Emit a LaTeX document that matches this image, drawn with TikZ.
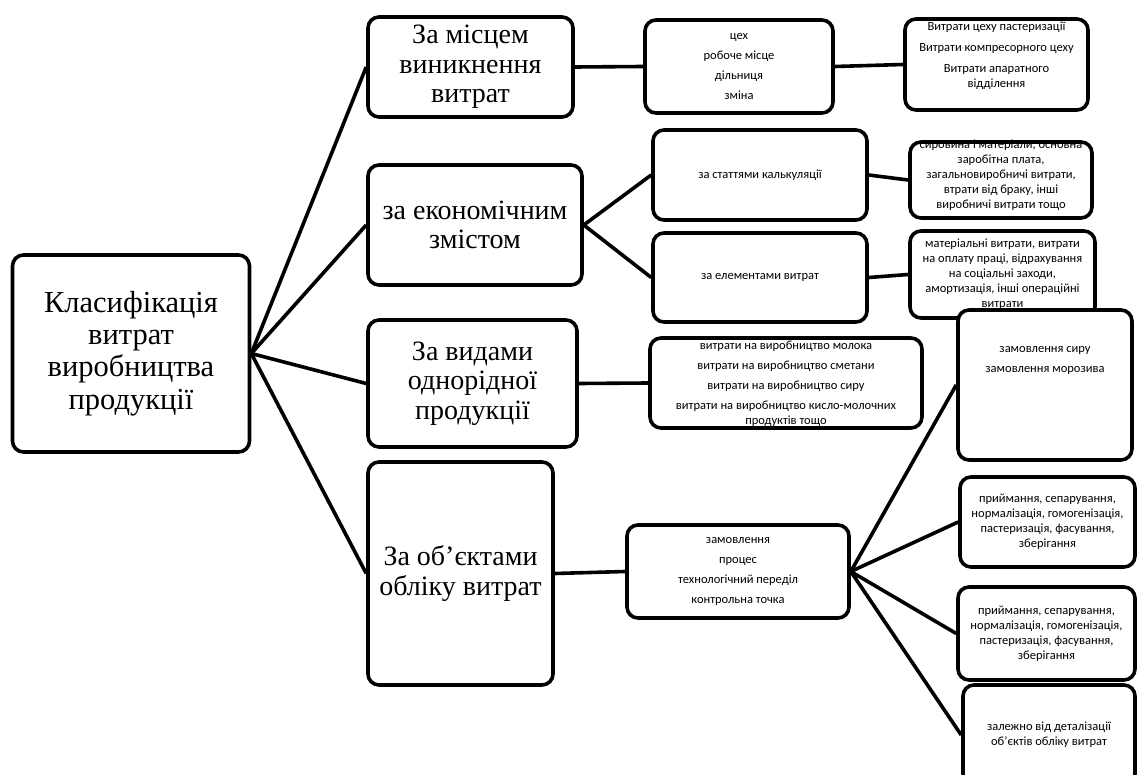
\documentclass[tikz,border=0pt]{standalone}
\usepackage{fontspec}
\setmainfont{Liberation Serif}
\newfontfamily\titleserif{Liberation Serif}
\newfontfamily\smallsans{Carlito}
\begin{document}
\begin{tikzpicture}[x=1pt,y=-1pt,
  box/.style={draw=black, line width=3.6pt, rounded corners=11pt, fill=white,
    align=center, inner sep=2pt},
  bigtext/.style={font=\titleserif\fontsize{28}{29.5}\selectfont},
  roottext/.style={font=\titleserif\fontsize{30.5}{32.3}\selectfont},
  smalltext/.style={font=\smallsans\fontsize{12.5}{15}\selectfont},
  listtext/.style={font=\smallsans\fontsize{12.5}{20}\selectfont},
  link/.style={line width=3.6pt}]
\useasboundingbox (0,0) rectangle (1138,775);

% level 0
\node[box, roottext, minimum width=237pt, minimum height=197pt] (root) at (131,353.5)
  {Класифікація\\витрат\\виробництва\\продукції};

% level 1
\node[box, bigtext, minimum width=205pt, minimum height=100pt] (place) at (470.5,67)
  {За місцем\\виникнення\\витрат};
\node[box, bigtext, minimum width=214pt, minimum height=120pt] (econ) at (475,225)
  {за економічним\\змістом};
\node[box, bigtext, minimum width=209pt, minimum height=127pt] (kind) at (472.5,383.5)
  {За видами\\однорідної\\продукції};
\node[box, bigtext, minimum width=185pt, minimum height=223pt] (obj) at (460.5,573.5)
  {За об’єктами\\обліку витрат};

% level 2
\node[box, listtext, minimum width=188pt, minimum height=93pt] (where) at (739,66.5)
  {цех\\робоче місце\\дільниця\\зміна};
\node[box, smalltext, minimum width=214pt, minimum height=90pt] (calc) at (760,175)
  {за статтями калькуляції};
\node[box, smalltext, minimum width=214pt, minimum height=89pt] (elem) at (760,277.5)
  {за елементами витрат};
\node[box, minimum width=272pt, minimum height=90pt] (prod) at (786,383) {};
\node[listtext, align=center] at (786,384)
  {витрати на виробництво молока\\витрати на виробництво сметани\\витрати на виробництво сиру\\витрати на виробництво кисло-молочних\\[-5pt]продуктів тощо};
\node[box, listtext, minimum width=222pt, minimum height=93pt] (order) at (738,571.5)
  {замовлення\\процес\\технологічний переділ\\контрольна точка};

% level 3
\node[box, minimum width=183pt, minimum height=91pt] (shops) at (996.5,64.5) {};
\node[smalltext, align=center] at (996.5,56)
  {Витрати цеху пастеризації\\[6pt]Витрати компресорного цеху\\[6pt]Витрати апаратного\\відділення};
\node[box, minimum width=182pt, minimum height=76pt] (items) at (1001,180) {};
\node[smalltext, align=center] at (1001,175)
  {сировина і матеріали, основна\\заробітна плата,\\загальновиробничі витрати,\\втрати від браку, інші\\виробничі витрати тощо};
\node[box, smalltext, minimum width=185pt, minimum height=87pt] (elems) at (1002.5,274.5)
  {матеріальні витрати, витрати\\на оплату праці, відрахування\\на соціальні заходи,\\амортизація, інші операційні\\витрати};
\node[box, minimum width=174pt, minimum height=150pt] (orders) at (1045,385) {};
\node[listtext, align=center] at (1045,360)
  {замовлення сиру\\замовлення морозива};
\node[box, smalltext, minimum width=175pt, minimum height=90pt] (proc1) at (1047.5,522)
  {приймання, сепарування,\\нормалізація, гомогенізація,\\пастеризація, фасування,\\зберігання};
\node[box, smalltext, minimum width=177pt, minimum height=93pt] (proc2) at (1046.5,633.5)
  {приймання, сепарування,\\нормалізація, гомогенізація,\\пастеризація, фасування,\\зберігання};
\node[box, smalltext, minimum width=172pt, minimum height=100pt] (detail) at (1049,735)
  {залежно від деталізації\\об’єктів обліку витрат};

% connectors
\draw[link] (root.east) -- (place.west);
\draw[link] (root.east) -- (econ.west);
\draw[link] (root.east) -- (kind.west);
\draw[link] (root.east) -- (obj.west);
\draw[link] (place.east) -- (where.west);
\draw[link] (where.east) -- (shops.west);
\draw[link] (econ.east) -- (calc.west);
\draw[link] (econ.east) -- (elem.west);
\draw[link] (calc.east) -- (items.west);
\draw[link] (elem.east) -- (elems.west);
\draw[link] (kind.east) -- (prod.west);
\draw[link] (obj.east) -- (order.west);
\draw[link] (order.east) -- (orders.west);
\draw[link] (order.east) -- (proc1.west);
\draw[link] (order.east) -- (proc2.west);
\draw[link] (order.east) -- (detail.west);
\end{tikzpicture}
\end{document}
